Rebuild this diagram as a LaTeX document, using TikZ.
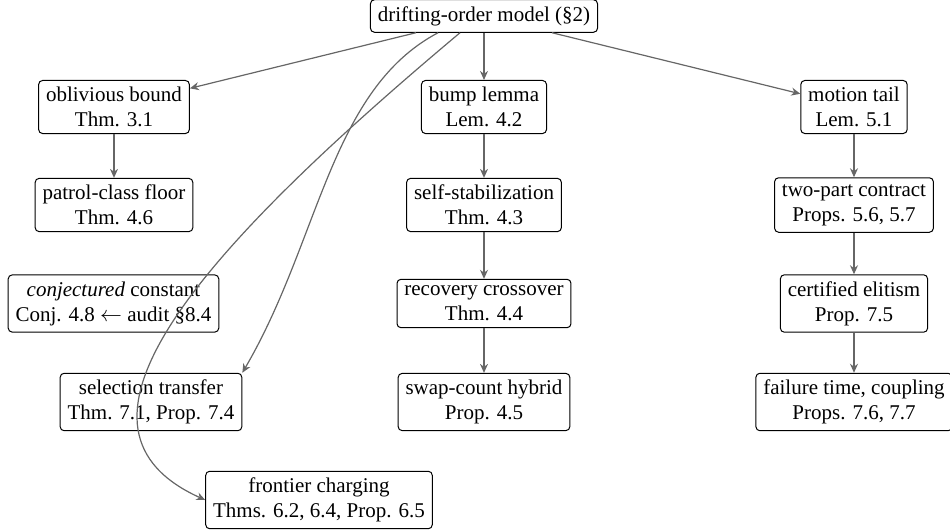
\documentclass[tikz,border=0pt]{standalone}
\usepackage{fontspec}
\setmainfont{Liberation Serif}
\usetikzlibrary{arrows.meta}
\begin{document}
\begin{tikzpicture}[x=0.5pt,y=-0.5pt,
  box/.style={draw=black,line width=0.5pt,rounded corners=2pt,align=center,
    inner xsep=3.7pt,inner ysep=3.3pt,
    font=\fontsize{10.5}{12.5}\selectfont},
  link/.style={draw=black!60,line width=0.6pt,-{Stealth[length=4.5pt,width=4pt]}}]
\useasboundingbox (0,0) rectangle (950,531);
\node[box] (top) at (484,16) {drifting-order model (\S2)};
\node[box] (obl) at (114,107) {oblivious bound\\Thm. 3.1};
\node[box] (bump) at (484,107) {bump lemma\\Lem. 4.2};
\node[box] (mot) at (854,107) {motion tail\\Lem. 5.1};
\node[box] (pat) at (114,205) {patrol-class floor\\Thm. 4.6};
\node[box] (self) at (484,205) {self-stabilization\\Thm. 4.3};
\node[box] (two) at (854,205) {two-part contract\\Props. 5.6, 5.7};
\node[box] (conj) at (113.5,303.5) {\textit{conjectured} constant\\Conj. 4.8 $\leftarrow$ audit \S8.4};
\node[box] (rec) at (484,303.5) {recovery crossover\\Thm. 4.4};
\node[box] (cert) at (854,303.5) {certified elitism\\Prop. 7.5};
\node[box] (sel) at (151,402) {selection transfer\\Thm. 7.1, Prop. 7.4};
\node[box] (swap) at (484,402) {swap-count hybrid\\Prop. 4.5};
\node[box] (fail) at (854,402) {failure time, coupling\\Props. 7.6, 7.7};
\node[box] (front) at (319,500) {frontier charging\\Thms. 6.2, 6.4, Prop. 6.5};
\draw[link] (top) -- (obl);
\draw[link] (top) -- (bump);
\draw[link] (top) -- (mot);
\draw[link] (obl) -- (pat);
\draw[link] (bump) -- (self);
\draw[link] (self) -- (rec);
\draw[link] (rec) -- (swap);
\draw[link] (mot) -- (two);
\draw[link] (two) -- (cert);
\draw[link] (cert) -- (fail);
\draw[link] ([xshift=-23pt]top.south) .. controls (330,90) and (320,240) .. (sel.north east);
\draw[link] ([xshift=-12pt]top.south) .. controls (180,267.5) and (50,430) .. (front.west);
\end{tikzpicture}
\end{document}
